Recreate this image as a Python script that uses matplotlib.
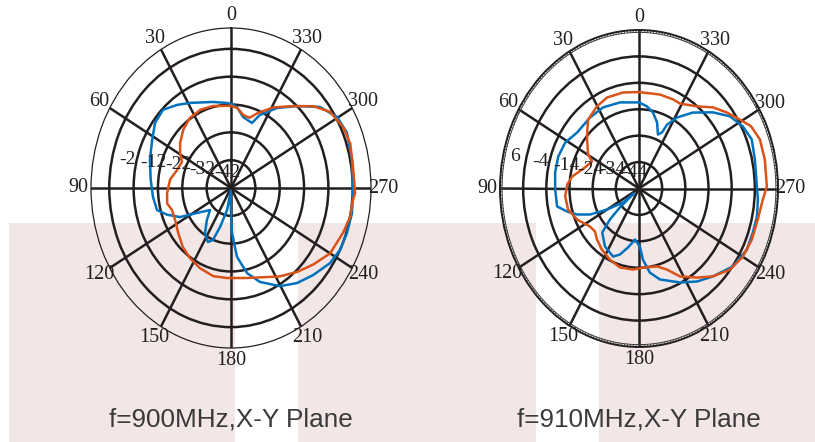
import numpy as np
import matplotlib
matplotlib.use("Agg")
import matplotlib.pyplot as plt
from matplotlib.patches import Rectangle

# ---------------- data ----------------
angle_labels = [str(a) for a in range(0, 360, 30)]

# Left plot: f=900MHz
left_title = "f=900MHz,X-Y Plane"
left_rticks = [-42, -32, -22, -12, -2]
left_rlim = (-52, 5.5)
left_rlabels = ["-2", "-12", "-22", "-32", "-42"]
left_blue_deg = [0, 3, 13.5, 28.8, 36.6, 44.8, 53.1, 61.9, 73.2, 85, 95.8, 104.6, 110, 116.5,
                 122.7, 132.6, 139.3, 146.6, 154, 158.4, 162.2, 168.5, 175, 179, 180.5, 181.4,
                 185.7, 192.2, 199.4, 209.7, 218.4, 227.1, 236.4, 243.5, 251.2, 259.7, 268,
                 281.5, 292.6, 300.4, 308.6, 317.4, 326.7, 335.7, 339.8, 349, 355.2, 360]
left_blue_db = [-21.8, -21.4, -20.2, -17.1, -14.8, -12.4, -13.0, -15.3, -17.2, -18.9, -19.8,
                -20.6, -24.0, -28.6, -35.4, -40.3, -36.8, -32.6, -30.4, -31.9, -37.3, -43.9,
                -51.0, -46.0, -41.0, -35.8, -27.1, -20.7, -16.2, -11.4, -8.4, -6.0, -3.2,
                -2.0, -1.7, -1.5, -1.9, -1.3, -0.4, -1.5, -5.3, -12.0, -17.6, -23.2, -27.1,
                -26.0, -22.8, -21.8]
left_orange_deg = [0, 14, 24, 34, 43, 52, 59, 65, 74, 83, 94, 102, 108, 117, 127, 137, 146,
                   156, 167, 177, 191.5, 205, 212, 222, 231, 240, 251, 258, 265, 268, 279,
                   288, 295.5, 304, 311, 319, 329, 338, 343, 349, 355, 360]
left_orange_db = [-22.5, -21.6, -21.2, -21.7, -23.3, -25.5, -27.6, -29.8, -28.9, -26.8,
                  -25.7, -25.2, -26.5, -26.3, -24.9, -23.0, -21.7, -20.5, -19.5, -19.6,
                  -19.0, -16.7, -14.5, -11.4, -8.4, -5.0, -3.2, -2.0, -1.7, -1.0, -1.3,
                  -0.5, -1.0, -3.0, -7.2, -13.0, -18.2, -23.0, -25.6, -25.3, -23.1, -22.5]

# Right plot: f=910MHz
right_title = "f=910MHz,X-Y Plane"
right_rticks = [-44, -34, -24, -14, -4]
right_rlim = (-54, 6)
right_rlabels = ["6", "-4", "-14", "-24", "-34", "-44"]
right_blue_deg = [0, 14.1, 26.8, 38.1, 51.6, 61.4, 70.9, 80.4, 90.6, 100.9, 105.7, 110.2,
                  115, 120, 127.5, 130, 131, 133, 136.4, 146.2, 156.5, 161.8, 168, 175, 181,
                  183.6, 188.4, 194.7, 206.4, 215.4, 223.8, 233.9, 243.6, 251.2, 258.2,
                  265.3, 270.9, 282.4, 290.9, 297.7, 304.9, 312.1, 321, 328.6, 333.4, 335,
                  338.2, 342.7, 348.2, 353.8, 360]
right_blue_db = [-21.4, -20.4, -19.6, -19.8, -19.9, -17.7, -17.1, -17.3, -17.8, -18.0, -21.8,
                 -25.5, -30.7, -38.0, -45.3, -51.0, -43.0, -37.0, -31.0, -27.6, -25.9, -27.7,
                 -31.2, -34.6, -32.0, -27.0, -21.8, -18.4, -14.3, -10.8, -7.9, -3.9, -2.0,
                 -2.1, -2.0, -2.5, -3.1, -2.8, -1.9, -3.4, -6.2, -11.0, -17.0, -22.5, -27.0,
                 -30.6, -32.0, -27.8, -24.6, -22.7, -21.4]
right_orange_deg = [0, 10.7, 21.8, 30.2, 40.1, 46.6, 50.3, 59.6, 63.3, 71, 81.1, 87.2, 95.4,
                    104.6, 113.7, 124.3, 130.6, 136.8, 145, 155, 164.7, 175.2, 183.3, 194.8,
                    201.5, 208, 216.6, 223.8, 231.9, 240, 248.4, 257.2, 265.5, 270.8, 281.4,
                    289.6, 296, 301, 307.2, 313.9, 321.2, 331.2, 336.4, 345.7, 360]
right_orange_db = [-17.5, -17.0, -16.9, -18.0, -19.9, -23.2, -24.9, -28.5, -31.3, -29.4,
                   -24.8, -23.0, -22.0, -22.4, -24.8, -28.4, -29.0, -27.5, -25.9, -24.3,
                   -23.0, -23.2, -24.0, -23.5, -21.0, -16.3, -12.0, -7.9, -4.2, -2.3, -1.6,
                   -1.4, -0.4, 1.2, 1.4, 1.4, -0.2, -3.3, -6.4, -9.7, -14.1, -17.3, -17.2,
                   -17.3, -17.5]

BLUE = "#0072BD"
ORANGE = "#D95319"
GRID = "#231f20"
PINK = "#f3e6e7"

W, H = 815, 442
fig = plt.figure(figsize=(W / 100, H / 100), dpi=100)
fig.patch.set_facecolor("white")

# pink background bands
for x0, x1 in [(9, 235), (298, 536), (599, 815)]:
    fig.add_artist(Rectangle((x0 / W, 0), (x1 - x0) / W, (H - 223) / H,
                             transform=fig.transFigure, facecolor=PINK,
                             edgecolor="none", zorder=0))


def make_polar(rect_px, rlim, rticks, rlabels, label_pos, blue_deg, blue_db,
               orange_deg, orange_db, title, hatched):
    x0, y0, w, h = rect_px
    ax = fig.add_axes([x0 / W, 1 - (y0 + h) / H, w / W, h / H], projection="polar")
    ax.set_aspect("auto")
    ax.set_facecolor("none")
    ax.set_theta_zero_location("N")
    ax.set_theta_direction(1)
    ax.set_rlim(*rlim)
    ax.set_rticks(rticks)
    ax.set_yticklabels([])
    ax.set_thetagrids(range(0, 360, 30), labels=angle_labels,
                      fontsize=14.5, family="Liberation Serif", color=GRID)
    ax.grid(True, color=GRID, linewidth=1.8)
    ax.spines["polar"].set_linewidth(0.9 if not hatched else 1.4)
    ax.spines["polar"].set_color(GRID)
    ax.tick_params(axis="x", which="major", length=0, pad=2)
    if hatched:
        # hatched outer frame (decoration)
        hatch_t = np.deg2rad(np.arange(0, 360, 1.2))
        ax.vlines(hatch_t, rlim[1] - 0.9, rlim[1], colors="#3a3a3a", lw=0.6, zorder=2)
        ax.plot(np.linspace(0, 2 * np.pi, 721), np.full(721, rlim[1] - 0.9),
                color="#3a3a3a", lw=0.7, zorder=2)
    ax.set_rlim(*rlim)
    ax.plot(np.deg2rad(blue_deg), blue_db, color=BLUE, lw=1.8, zorder=3)
    ax.plot(np.deg2rad(orange_deg), orange_db, color=ORANGE, lw=1.8, zorder=4)
    for txt, (xf, yf) in zip(rlabels, label_pos):
        ax.text(xf, yf, txt, transform=ax.transAxes, ha="center", va="center",
                fontsize=14, family="Liberation Serif", color=GRID, zorder=5)
    cx = (x0 + w / 2) / W
    fig.text(cx, 1 - 419 / H, title, ha="center", va="center", fontsize=18.8,
             family="Liberation Sans", color="#3a3a3a")
    return ax


left_label_pos = [(0.1286, 0.5875), (0.2214, 0.581), (0.3107, 0.572),
                  (0.3964, 0.559), (0.4857, 0.5469)]
right_label_pos = [(0.054, 0.5994), (0.1439, 0.5836), (0.2374, 0.5741),
                   (0.3237, 0.5615), (0.4029, 0.5584), (0.482, 0.552)]

make_polar((91, 28, 280, 320), left_rlim, left_rticks, left_rlabels, left_label_pos,
           left_blue_deg, left_blue_db, left_orange_deg, left_orange_db, left_title, False)
make_polar((500, 30, 278, 317), right_rlim, right_rticks, right_rlabels, right_label_pos,
           right_blue_deg, right_blue_db, right_orange_deg, right_orange_db, right_title, True)

fig.savefig("out.png", dpi=100)
